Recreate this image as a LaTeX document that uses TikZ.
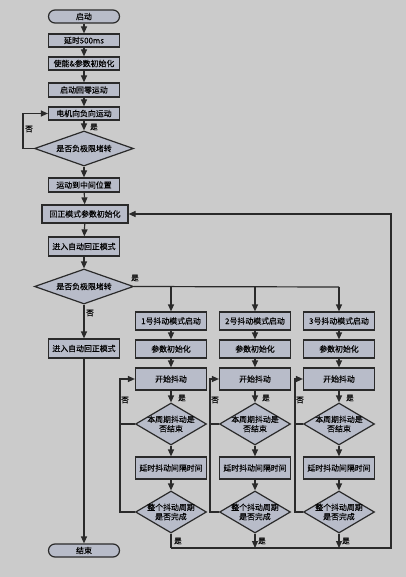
\documentclass[tikz,border=0pt]{standalone}
\usepackage{fontspec}
\newfontfamily\cjk[FakeBold=0.2]{Noto Sans CJK SC}
\usetikzlibrary{shapes.geometric,arrows.meta}
\definecolor{bg}{HTML}{CBCBCB}
\definecolor{boxfill}{HTML}{B8BCC9}
\definecolor{edge}{HTML}{2A2A2A}
\begin{document}
\begin{tikzpicture}[x=1pt,y=-1pt,
  font=\cjk\fontsize{7.9}{9.3}\selectfont,
  every node/.style={inner sep=0pt, text=black},
  box/.style={draw=edge, fill=boxfill, line width=1.2pt, rectangle, minimum width=71pt, align=center},
  term/.style={box, rounded corners=6.5pt, minimum height=13pt},
  dia/.style={draw=edge, fill=boxfill, line width=1.2pt, diamond, inner sep=0pt},
  lbl/.style={font=\cjk\fontsize{7.6}{8}\selectfont},
  conn/.style={draw=edge, line width=1.2pt},
  arr/.style={conn, -{Triangle[length=7pt,width=6pt]}}]
\fill[bg] (0,0) rectangle (406,577);
\useasboundingbox (0,0) rectangle (406,577);

% main column
\node[term] (start) at (84,16.5) {启动};
\node[box, minimum height=13pt] (delay) at (84,40.5) {延时500ms};
\node[box, minimum height=13pt] (init) at (84,63.5) {使能\&参数初始化};
\node[box, minimum height=14pt] (home) at (84,90) {启动回零运动};
\node[box, minimum height=13pt] (neg) at (84,113.5) {电机向负向运动};
\node[dia, minimum width=99pt, minimum height=35pt] (dec1) at (84,148.5) {};
\node at (dec1) {是否负极限堵转};
\node[box, minimum height=14pt] (mid) at (84,185) {运动到中间位置};
\node[box, minimum width=86pt, minimum height=18pt] (rinit) at (85,214) {回正模式参数初始化};
\node[box, minimum height=19pt] (auto1) at (84,246.5) {进入自动回正模式};
\node[dia, minimum width=99pt, minimum height=35pt] (dec2) at (84,286.5) {};
\node at (dec2) {是否负极限堵转};
\node[box, minimum height=19pt] (auto2) at (84,348.5) {进入自动回正模式};
\node[term] (end) at (84,550.5) {结束};

\draw[arr] (start) -- (delay);
\draw[arr] (delay) -- (init);
\draw[arr] (init) -- (home);
\draw[arr] (home) -- (neg);
\draw[arr] (neg) -- (dec1);
\node[lbl] (yes1) at (94,127) {是};
\draw[arr] (dec1) -- (mid);
\coordinate (loop0) at (23,148.5);
\draw[arr] (dec1.west) -- (loop0) |- (neg.west);
\node[lbl] (no1) at (29,129) {否};
\draw[arr] (mid) -- (rinit);
\draw[arr] (rinit) -- (auto1);
\draw[arr] (auto1) -- (dec2);
\draw[arr] (dec2) -- (auto2);
\node[lbl] (no2) at (90,313) {否};
\node[lbl] (yes2) at (135,278) {是};
\draw[arr] (auto2) -- (end);

% columns
\foreach \i/\cx/\lx in {1/171/120, 2/255/210, 3/339/295} {
  \node[box, minimum height=18pt] (m\i) at (\cx,321) {\i 号抖动模式启动};
  \node[box, minimum height=18pt] (p\i) at (\cx,349) {参数初始化};
  \node[box, minimum height=22pt] (s\i) at (\cx,379) {开始抖动};
  \node[dia, minimum width=71pt, minimum height=42pt] (q\i) at (\cx,424) {};
  \node[align=center] at (q\i) {本周期抖动是\\否结束};
  \node[box, minimum height=22pt] (t\i) at (\cx,468) {延时抖动间隔时间};
  \node[dia, minimum width=71pt, minimum height=42pt] (w\i) at (\cx,512) {};
  \node[align=center] at (w\i) {整个抖动周期\\是否完成};
  \coordinate (top\i) at (\cx,287);
  \coordinate (bot\i) at (\cx,548);
  \coordinate (lq\i) at (\lx,424);
  \coordinate (lw\i) at (\lx,512);
  \draw[arr] (top\i) -- (m\i);
  \draw[arr] (m\i) -- (p\i);
  \draw[arr] (p\i) -- (s\i);
  \draw[arr] (s\i) -- (q\i);
  \draw[arr] (q\i) -- (t\i);
  \draw[arr] (t\i) -- (w\i);
  \draw[conn] (q\i.west) -- (lq\i);
  \draw[arr] (w\i.west) -- (lw\i) |- (s\i.west);
  \node[lbl] at (\cx+11,398) {是};
  \node[lbl] at (\lx+5,400) {否};
  \node[lbl] at (\cx+7,541) {是};
}
\draw[conn] (dec2.east) -- (top3);
\draw[conn] (w1.south) -- (bot1);
\draw[arr] (w2.south) -- (bot2);
\draw[arr] (w3.south) -- (bot3);
\coordinate (br) at (391,548);
\draw[arr] (bot1) -- (br) |- (rinit.east);
\end{tikzpicture}
\end{document}
